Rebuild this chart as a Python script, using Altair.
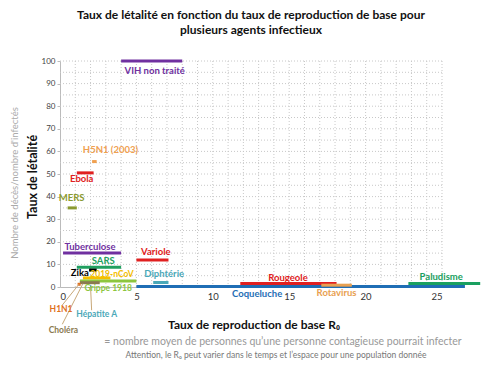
import altair as alt
import pandas as pd

# --- data ---
agents = ["Coqueluche", "VIH non traité", "H5N1 (2003)", "Ebola", "MERS", "Tuberculose",
          "Variole", "SARS", "Zika", "2019-nCoV", "Grippe 1918", "Choléra", "H1N1",
          "Hépatite A", "Diphtérie", "Rougeole", "Rotavirus", "Paludisme"]
r0_min = [5.0, 4.0, 2.1, 1.1, 0.5, 0.2, 5.0, 1.1, 1.9, 1.5, 1.3, 1.3, 1.15, 1.97, 6.1, 11.8, 17.1, 22.8]
r0_max = [26.5, 8.0, 2.4, 2.2, 1.1, 4.0, 7.1, 4.0, 2.4, 3.3, 5.0, 2.6, 1.35, 2.05, 7.1, 18.1, 19.1, 27.5]
letalite = [0.2, 100, 55.5, 50.5, 35, 15, 12, 8.7, 7.5, 4, 2.6, 1.9, 1.2, 0.2, 2, 1.6, 0.8, 1.5]
colors = ["#1F6EB5", "#7030A0", "#F0A050", "#E02020", "#8A9A30", "#7030A0",
          "#E02020", "#20A060", "#000000", "#F5C000", "#8DC63F", "#8A7A50", "#E07020",
          "#4AA8B8", "#4AA8B8", "#E02020", "#E8A050", "#1AA060"]
small_labels = ["2019-nCoV", "Grippe 1918", "Choléra", "H1N1", "Hépatite A"]

# label anchors (data units)
label_x = [12.9, 6.2, 3.3, 1.42, 0.76, 1.96, 6.27, 2.83, 1.3, 3.4, 3.15, 0.22, 0.07, 2.4, 6.82, 14.92, 18.1, 24.95]
label_y = [-3.2, 95.7, 60.6, 47.8, 39.2, 17.6, 15.4, 11.6, 6.1, 5.6, -0.6, -19.2, -9.7, -12.1, 5.75, 4.1, -2.8, 4.3]

# leader lines (H1N1, Choléra, Hépatite A)
lead_x = [1.24, 1.5, 2.0]
lead_y = [1.2, 1.5, 0.1]
lead_x2 = [0.15, 0.15, 2.07]
lead_y2 = [-8.0, -16.5, -10.3]

x_labels = [0, 5, 10, 15, 20, 25]
y_labels = list(range(0, 101, 10))
x_grid = list(range(1, 26))
y_grid = list(range(5, 101, 5))

seg = pd.DataFrame({"agent": agents, "x1": r0_min, "x2": r0_max, "y": letalite,
                    "lx": label_x, "ly": label_y})
leads = pd.DataFrame({"x": lead_x, "y": lead_y, "x2": lead_x2, "y2": lead_y2})

FONT = "Lato"
W, H = 382, 226

xs = alt.Scale(domain=[0, 25], nice=False, zero=False)
ys = alt.Scale(domain=[0, 100], nice=False)
cs = alt.Scale(domain=agents, range=colors)

XAX = alt.Axis(values=x_labels, title=None, ticks=False, grid=False,
               domainColor="#bbbbbb", labelFont=FONT, labelFontSize=9.5,
               labelColor="#333", labelPadding=4)
YAX = alt.Axis(values=y_labels, title=None, grid=False,
               domainColor="#bbbbbb", tickColor="#bbbbbb", tickSize=3,
               labelFont=FONT, labelFontSize=8, labelColor="#444")

grid_style = dict(strokeWidth=1, strokeDash=[1, 2], color="#c8c8c8")
vgrid = alt.Chart(pd.DataFrame({"g": x_grid})).mark_rule(**grid_style).encode(
    x=alt.X("g:Q", scale=xs, axis=XAX), y=alt.value(0), y2=alt.value(H))
hgrid = alt.Chart(pd.DataFrame({"g": y_grid})).mark_rule(**grid_style).encode(
    y=alt.Y("g:Q", scale=ys, axis=YAX), x=alt.value(0), x2=alt.value(W))

base = alt.Chart(seg)

rules = base.mark_rule(strokeWidth=3).encode(
    x=alt.X("x1:Q", scale=xs, axis=XAX),
    x2="x2:Q",
    y=alt.Y("y:Q", scale=ys, axis=YAX),
    color=alt.Color("agent:N", scale=cs, legend=None),
)

lab_enc = dict(
    x=alt.X("lx:Q", scale=xs, axis=XAX),
    y=alt.Y("ly:Q", scale=ys, axis=YAX),
    text="agent:N",
    color=alt.Color("agent:N", scale=cs, legend=None),
)
labels_big = base.transform_filter(
    ~alt.FieldOneOfPredicate(field="agent", oneOf=small_labels)
).mark_text(font=FONT, fontSize=9.5, fontWeight="bold").encode(**lab_enc)
labels_small = base.transform_filter(
    alt.FieldOneOfPredicate(field="agent", oneOf=small_labels)
).mark_text(font=FONT, fontSize=8.5, fontWeight="bold").encode(**lab_enc)

leader = alt.Chart(leads).mark_rule(strokeWidth=1, color="#c8a878").encode(
    x=alt.X("x:Q", scale=xs, axis=XAX), y=alt.Y("y:Q", scale=ys, axis=YAX),
    x2="x2:Q", y2="y2:Q",
)

def txt(s, x, y, size, color, weight="normal", angle=0):
    return alt.Chart(pd.DataFrame({"t": [s]})).mark_text(
        font=FONT, fontSize=size, color=color, fontWeight=weight, angle=angle,
        align="center", baseline="middle").encode(
        text="t:N", x=alt.value(x), y=alt.value(y))

annot = [
    txt("Nombre de décès/nombre d'infectés", -45, 122, 9.5, "#aaaaaa", angle=270),
    txt("Taux de létalité", -27, 116, 12.5, "#111111", "bold", angle=270),
    txt("Taux de reproduction de base R₀", 194, 264, 12, "#111111", "bold"),
    txt("= nombre moyen de personnes qu’une personne contagieuse pourrait infecter", 223, 281, 10.5, "#999999"),
    txt("Attention, le R₀ peut varier dans le temps et l’espace pour une population donnée", 216, 294, 8.5, "#777777"),
]

chart = alt.layer(vgrid, hgrid, rules, leader, labels_big, labels_small, *annot).properties(
    width=W, height=H,
    autosize=alt.AutoSizeParams(type="none"),
    padding={"left": 52, "top": 53, "right": 45, "bottom": 74},
    title=alt.TitleParams(
        ["Taux de létalité en fonction du taux de reproduction de base pour",
         "plusieurs agents infectieux"],
        font=FONT, fontSize=12, fontWeight="bold", color="#111111",
        anchor="middle", offset=20, lineHeight=15),
).configure_view(stroke=None)

chart.save("out.html", embed_options={"renderer": "svg", "actions": False})
